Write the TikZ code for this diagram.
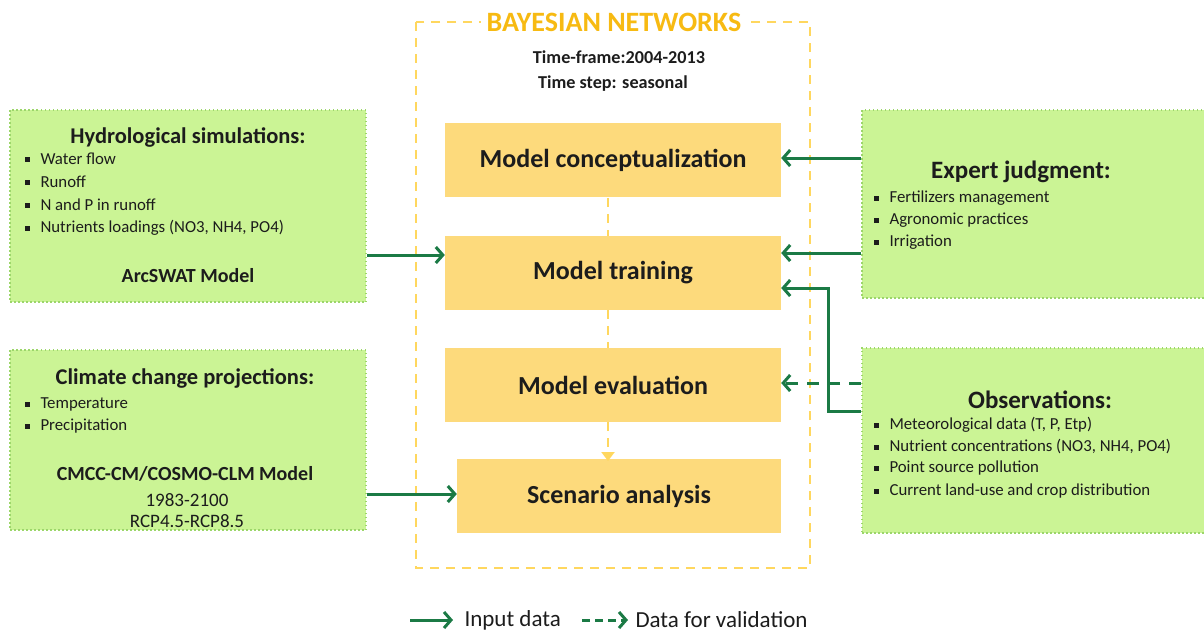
\documentclass[tikz,border=0pt]{standalone}
\usepackage{fontspec}
\setmainfont{Carlito}
\usetikzlibrary{arrows.meta,positioning,calc}
\definecolor{bnyellow}{HTML}{FFD75E}
\definecolor{bnfill}{HTML}{FDDA7C}
\definecolor{bntitle}{HTML}{F7BA12}
\definecolor{srcfill}{HTML}{CBF495}
\definecolor{srcedge}{HTML}{9CD66A}
\definecolor{flowgreen}{HTML}{1B7A45}
\definecolor{ink}{HTML}{1C1C1C}
\tikzset{
  stage/.style={fill=bnfill, draw=none, minimum width=336pt, minimum height=74pt,
    font=\bfseries\fontsize{26}{28}\selectfont, text=ink},
  source/.style={fill=srcfill, draw=srcedge, line width=2pt, dash pattern=on 1.5pt off 2.5pt},
  headtext/.style={font=\bfseries\fontsize{22.5}{24}\selectfont, text=ink},
  itemtext/.style={font=\fontsize{16.8}{18}\selectfont, text=ink, anchor=west},
  modeltext/.style={font=\bfseries\fontsize{20}{22}\selectfont, text=ink},
  subtext/.style={font=\fontsize{19}{21}\selectfont, text=ink},
  blt/.style={fill=ink, minimum size=5pt, inner sep=0pt},
  feed/.style={draw=flowgreen, line width=3pt,
    -{Straight Barb[length=7pt,width=16pt,line width=3pt]}},
  feeddash/.style={feed, dash pattern=on 12pt off 9pt},
  link/.style={draw=bnyellow, line width=2.5pt, dash pattern=on 9pt off 7pt},
  legendtext/.style={font=\fontsize{23}{25}\selectfont, text=ink, anchor=west},
}
\newcommand{\itm}[3]{%
  \node[blt] at (#1,#2) {};
  \node[itemtext] at ($(#1,#2)+(10,0)$) {#3};}
\begin{document}
\begin{tikzpicture}[x=1pt,y=-1pt]
\useasboundingbox (0,0) rectangle (1204,633);

% outer Bayesian-network frame
\draw[link, line width=2.5pt] (416,22) rectangle (810,568);
\node[fill=white, inner xsep=6pt, font=\bfseries\fontsize{28}{30}\selectfont, text=bntitle]
  (bntitle) at (614,22) {BAYESIAN NETWORKS};
\node[font=\bfseries\fontsize{18.2}{20}\selectfont, text=ink] (frame) at (619,57) {Time-frame:2004-2013};
\node[font=\bfseries\fontsize{18.2}{20}\selectfont, text=ink] (tstep) at (613,84) {Time step: seasonal};

% modelling stages
\node[stage] (concept) at (613,160) {Model conceptualization};
\node[stage] (train) at (613,273) {Model training};
\node[stage] (eval) at (613,385) {Model evaluation};
\node[stage, minimum width=324pt] (scen) at (619,496) {Scenario analysis};

\draw[link] (608,198) -- (608,236);
\draw[link] (608,310) -- (608,348);
\draw[link, -{Triangle[length=9pt,width=13pt]}] (608,422) -- (608,461);

% data sources
\node[source, minimum width=356pt, minimum height=192pt] (hydro) at (188,206) {};
\node[headtext] (hydroT) at (188,137) {Hydrological simulations:};
\itm{27}{159}{Water flow}
\itm{27}{182}{Runoff}
\itm{27}{205}{N and P in runoff}
\itm{27}{228}{Nutrients loadings (NO3, NH4, PO4)}
\node[modeltext] (hydroM) at (188,276) {ArcSWAT Model};

\node[source, minimum width=356pt, minimum height=180pt] (clim) at (188,440) {};
\node[headtext] (climT) at (185,378) {Climate change projections:};
\itm{27}{404}{Temperature}
\itm{27}{426}{Precipitation}
\node[modeltext] (climM) at (185,474) {CMCC-CM/COSMO-CLM Model};
\node[subtext] (climY) at (187,500) {1983-2100};
\node[subtext] (climR) at (187,521) {RCP4.5-RCP8.5};

\node[source, minimum width=350pt, minimum height=188pt] (expert) at (1037,204) {};
\node[headtext, font=\bfseries\fontsize{25}{27}\selectfont] (expT) at (1021,172) {Expert judgment:};
\itm{876}{198}{Fertilizers management}
\itm{876}{220}{Agronomic practices}
\itm{876}{242}{Irrigation}

\node[source, minimum width=350pt, minimum height=185pt] (obs) at (1037,440) {};
\node[headtext, font=\bfseries\fontsize{25}{27}\selectfont] (obsT) at (1040,400) {Observations:};
\itm{876}{425}{Meteorological data (T, P, Etp)}
\itm{876}{447}{Nutrient concentrations (NO3, NH4, PO4)}
\itm{876}{468}{Point source pollution}
\itm{876}{491}{Current land-use and crop distribution}

% data flows
\draw[feed] (hydro.east |- 0,255) -- (train.west |- 0,255);
\draw[feed] (clim.east |- 0,494) -- (scen.west |- 0,494);
\draw[feed] (expert.west |- 0,158) -- (concept.east |- 0,158);
\draw[feed] (expert.west |- 0,253) -- (train.east |- 0,253);
\coordinate (obsbend) at (828,411);
\draw[feed] (obs.west |- 0,411) -- (obsbend) |- (train.east |- 0,288);
\draw[feeddash] (obs.west |- 0,383) -- (eval.east |- 0,383);

% legend
\coordinate (lgA) at (410,620);
\coordinate (lgB) at (453,620);
\draw[feed, line width=3pt] (lgA) -- (lgB);
\node[legendtext] (lgin) at (461,620) {Input data};
\coordinate (lgC) at (582,620);
\coordinate (lgD) at (628,620);
\draw[feed, dash pattern=on 8pt off 5pt] (lgC) -- (lgD);
\node[legendtext] (lgval) at (632,620) {Data for validation};
\end{tikzpicture}
\end{document}
